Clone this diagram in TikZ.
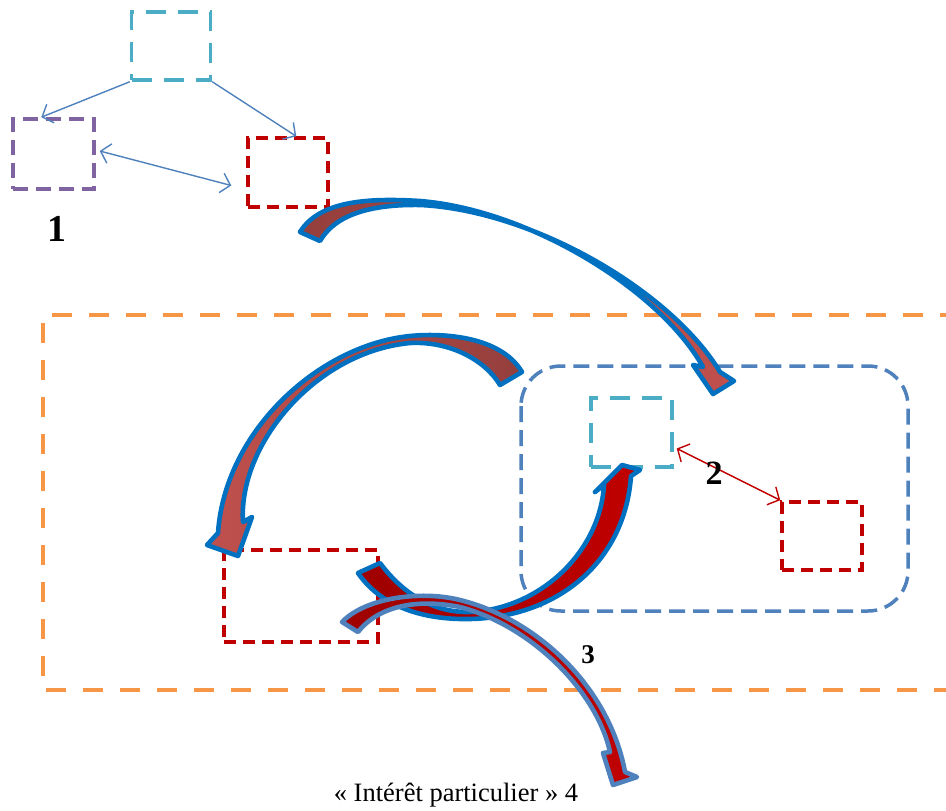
\documentclass[tikz,border=0pt]{standalone}
\usepackage{fontspec}
\setmainfont{Liberation Serif}
\usetikzlibrary{arrows.meta,calc}
\definecolor{cyanb}{HTML}{4BACC6}
\definecolor{purpb}{HTML}{8064A2}
\definecolor{redb}{HTML}{C00000}
\definecolor{orangeb}{HTML}{F79646}
\definecolor{blueb}{HTML}{4F81BD}
\definecolor{outl}{HTML}{0070C0}
\definecolor{brdark}{HTML}{943F3C}
\definecolor{brlight}{HTML}{C0504D}
\definecolor{rdark}{HTML}{9E0000}
\begin{document}
\begin{tikzpicture}[x=1pt,y=-1pt,
  box/.style={draw, line width=3.5pt, inner sep=0pt, fill=none},
  cbox/.style={box, draw=cyanb, dash pattern=on 20pt off 12pt},
  pbox/.style={box, draw=purpb, dash pattern=on 15pt off 8pt},
  rbox/.style={box, draw=redb, dash pattern=on 12pt off 7pt},
  thin/.style={draw=blueb, line width=1.4pt, -{Straight Barb[length=9pt,width=20pt]}},
  thinb/.style={draw=blueb, line width=1.4pt, {Straight Barb[length=9pt,width=20pt]}-{Straight Barb[length=9pt,width=20pt]}},
  thinr/.style={draw=redb, line width=1.4pt, {Straight Barb[length=9pt,width=20pt]}-{Straight Barb[length=9pt,width=20pt]}},
  carrow/.style={draw=outl, line width=4.6pt, line join=round},
  lbl/.style={font=\bfseries, inner sep=0pt}
]
\path[fill=white] (0,0) rectangle (946,811);
\useasboundingbox (0,0) rectangle (946,811);

% big frames
\draw[orangeb, line width=3.5pt, dash pattern=on 20pt off 17pt] (960,315) -- (43,315) -- (43,690) -- (960,690);
\draw[blueb, line width=3.5pt, dash pattern=on 16pt off 8pt, rounded corners=40pt] (521,366) rectangle (908,611);

% cluster 1
\node[cbox, minimum width=79pt, minimum height=68pt] (c1) at (171,46) {};
\node[pbox, minimum width=81pt, minimum height=70pt] (p1) at (53.5,154) {};
\node[rbox, minimum width=80pt, minimum height=69pt] (r1) at (288,172.5) {};
\draw[thin] (c1.south west) -- ([xshift=30pt]p1.north west);
\draw[thin] (c1.south east) -- ([xshift=50pt]r1.north west);
\draw[thinb] ([xshift=4pt,yshift=3pt]p1.east) -- ([xshift=-15pt,yshift=-13pt]r1.west);
\node[lbl, font=\bfseries\fontsize{38}{40}\selectfont] (n1) at (57,229) {1};

% cluster 2
\node[cbox, minimum width=81pt, minimum height=69pt] (c2) at (631.5,432.5) {};
\node[rbox, minimum width=80pt, minimum height=68pt] (r2) at (822,536) {};
\draw[thinr] ([xshift=3pt,yshift=-16pt]c2.east) -- (r2.north west);
\node[lbl, font=\bfseries\fontsize{34}{36}\selectfont] (n2) at (714,473) {2};

% lower red box
\node[rbox, minimum width=154pt, minimum height=92pt] (r3) at (301,596) {};

% curved arrow A
\path[carrow, left color=brdark, right color=brlight]
  (300,232) .. controls (320,200) and (370,198) .. (420,201)
  .. controls (530,210) and (660,290) .. (703,367)
  -- (693,365) -- (713,394) -- (734,381) -- (720,372)
  .. controls (672,292) and (535,211) .. (421,205)
  .. controls (370,204) and (335,215) .. (320,241) -- cycle;

% curved arrow B
\path[carrow, left color=brlight, right color=brdark]
  (522,372) .. controls (500,335) and (440,333) .. (410,336)
  .. controls (320,345) and (225,430) .. (218,533)
  -- (207,545) -- (238,556) -- (252,517) -- (243,522)
  .. controls (238,445) and (315,352) .. (410,343)
  .. controls (450,341) and (485,360) .. (500,385) -- cycle;

% curved arrow C
\path[carrow, left color=rdark, right color=redb]
  (358,573) .. controls (380,605) and (420,620) .. (470,619)
  .. controls (560,617) and (625,560) .. (631,476)
  -- (640,470) -- (622,465) -- (595,492) -- (604,485)
  .. controls (600,552) and (540,609) .. (470,612)
  .. controls (430,613) and (400,590) .. (380,563) -- cycle;

% curved arrow D
\path[carrow, draw=blueb, left color=rdark, right color=redb]
  (342,622) .. controls (365,598) and (420,590) .. (460,600)
  .. controls (540,620) and (610,690) .. (625,772)
  -- (637,777) -- (613,785) -- (603,753) -- (610,752)
  .. controls (597,692) and (532,626) .. (460,607)
  .. controls (410,597) and (375,610) .. (358,632) -- cycle;

\node[lbl, font=\bfseries\fontsize{27}{29}\selectfont] (n3) at (588,655) {3};
\node[inner sep=0pt, font=\fontsize{26.5}{28}\selectfont] (n4) at (456,795) {« Intérêt particulier » 4};
\end{tikzpicture}
\end{document}
